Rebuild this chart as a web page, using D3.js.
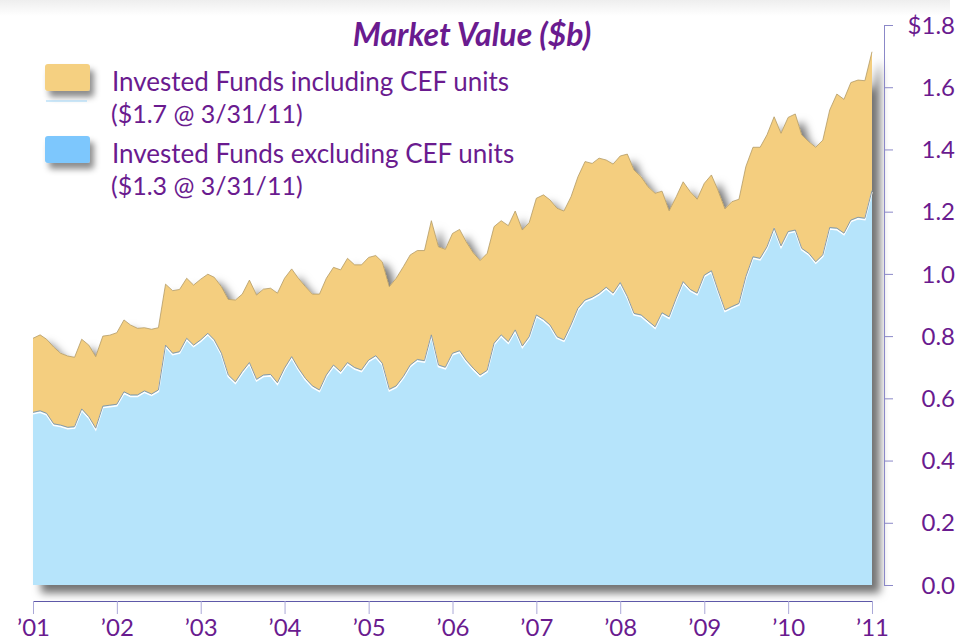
<!DOCTYPE html>
<html lang="en">
<head>
    <meta charset="UTF-8">
    <title>Market Value</title>
    <script src="https://d3js.org/d3.v7.min.js"></script>
    <style>
        body { margin: 0; background: #fff; }
        text { font-family: Lato, "Open Sans", sans-serif; fill: #6a1b8f; }
    </style>
</head>
<body>
    <div class="canvas"></div>
    <script>
        // month-end values, Jan '01 .. Jan '11 ($b)
        const withCEF = [
            0.793, 0.804, 0.790, 0.765, 0.745, 0.736, 0.732, 0.790, 0.771, 0.734, 0.800, 0.803,
            0.811, 0.852, 0.836, 0.825, 0.827, 0.822, 0.827, 0.967, 0.946, 0.950, 0.986, 0.964,
            0.983, 0.999, 0.989, 0.959, 0.918, 0.916, 0.935, 0.980, 0.932, 0.951, 0.954, 0.938,
            0.986, 1.016, 0.986, 0.959, 0.935, 0.935, 0.986, 1.021, 1.013, 1.050, 1.029, 1.029,
            1.053, 1.059, 1.039, 0.959, 0.986, 1.023, 1.061, 1.075, 1.075, 1.171, 1.087, 1.079,
            1.130, 1.143, 1.104, 1.068, 1.043, 1.066, 1.152, 1.171, 1.155, 1.202, 1.141, 1.165,
            1.243, 1.254, 1.238, 1.211, 1.202, 1.248, 1.312, 1.361, 1.355, 1.372, 1.366, 1.353,
            1.379, 1.385, 1.334, 1.312, 1.280, 1.259, 1.266, 1.203, 1.248, 1.296, 1.264, 1.240,
            1.291, 1.318, 1.270, 1.209, 1.232, 1.240, 1.345, 1.407, 1.407, 1.447, 1.505, 1.452,
            1.503, 1.514, 1.447, 1.425, 1.407, 1.430, 1.527, 1.578, 1.561, 1.615, 1.623, 1.621,
            1.714
        ];
        const withoutCEF = [
            0.555, 0.560, 0.552, 0.518, 0.514, 0.507, 0.509, 0.566, 0.541, 0.504, 0.575, 0.578,
            0.581, 0.621, 0.611, 0.611, 0.624, 0.614, 0.627, 0.771, 0.745, 0.750, 0.793, 0.771,
            0.788, 0.809, 0.788, 0.745, 0.675, 0.653, 0.686, 0.715, 0.661, 0.675, 0.677, 0.650,
            0.697, 0.734, 0.697, 0.664, 0.640, 0.627, 0.675, 0.707, 0.686, 0.715, 0.699, 0.691,
            0.723, 0.737, 0.713, 0.629, 0.640, 0.670, 0.707, 0.725, 0.721, 0.804, 0.707, 0.700,
            0.745, 0.753, 0.723, 0.697, 0.675, 0.690, 0.777, 0.804, 0.782, 0.820, 0.768, 0.798,
            0.868, 0.854, 0.836, 0.798, 0.788, 0.836, 0.889, 0.916, 0.925, 0.938, 0.957, 0.938,
            0.972, 0.927, 0.873, 0.868, 0.849, 0.830, 0.875, 0.862, 0.922, 0.975, 0.950, 0.938,
            0.996, 1.010, 0.948, 0.884, 0.895, 0.905, 0.991, 1.055, 1.050, 1.087, 1.147, 1.090,
            1.136, 1.141, 1.082, 1.066, 1.039, 1.061, 1.149, 1.147, 1.131, 1.173, 1.182, 1.179,
            1.268
        ];
        const yTicks = [0, 0.2, 0.4, 0.6, 0.8, 1.0, 1.2, 1.4, 1.6, 1.8];
        const legendLabels = [
            ['Invested Funds including CEF units', '($1.7 @ 3/31/11)'],
            ['Invested Funds excluding CEF units', '($1.3 @ 3/31/11)']
        ];
        const title = 'Market Value ($b)';

        const width = 962;
        const height = 642;

        const months = d3.timeMonth.range(new Date(2001, 0, 1), new Date(2011, 1, 1));
        const data = months.map((d, i) => ({ date: d, hi: withCEF[i], lo: withoutCEF[i] }));

        const svg = d3.select('.canvas')
            .append('svg')
            .attr('width', width)
            .attr('height', height);

        const defs = svg.append('defs');
        defs.append('filter').attr('id', 'shadow')
            .attr('x', '-10%').attr('y', '-10%').attr('width', '130%').attr('height', '130%')
            .append('feDropShadow')
            .attr('dx', 8).attr('dy', 8).attr('stdDeviation', 4)
            .attr('flood-color', '#000').attr('flood-opacity', 0.55);
        defs.append('filter').attr('id', 'swatchShadow')
            .attr('x', '-30%').attr('y', '-30%').attr('width', '180%').attr('height', '200%')
            .append('feDropShadow')
            .attr('dx', 4).attr('dy', 6).attr('stdDeviation', 3)
            .attr('flood-color', '#000').attr('flood-opacity', 0.45);
        const topGrad = defs.append('linearGradient').attr('id', 'topband')
            .attr('x1', 0).attr('y1', 0).attr('x2', 0).attr('y2', 1);
        topGrad.append('stop').attr('offset', '0%').attr('stop-color', '#eeeeee');
        topGrad.append('stop').attr('offset', '100%').attr('stop-color', '#ffffff');

        // faint band along the top edge
        svg.append('rect')
            .attr('x', 0).attr('y', 0).attr('width', 950).attr('height', 16)
            .attr('fill', 'url(#topband)');

        const x = d3.scaleTime()
            .domain([months[0], months[months.length - 1]])
            .range([33, 872]);

        const y = d3.scaleLinear()
            .domain([0, 1.8])
            .range([585, 25]);

        const areaHi = d3.area()
            .x(d => x(d.date))
            .y0(y(0))
            .y1(d => y(d.hi));
        const areaLo = d3.area()
            .x(d => x(d.date))
            .y0(y(0))
            .y1(d => y(d.lo));
        const lineHi = d3.line().x(d => x(d.date)).y(d => y(d.hi));
        const lineLo = d3.line().x(d => x(d.date)).y(d => y(d.lo));

        const plot = svg.append('g');

        plot.append('path')
            .datum(data)
            .attr('d', areaHi)
            .attr('fill', '#f4ce7f')
            .attr('filter', 'url(#shadow)');

        plot.append('path')
            .datum(data)
            .attr('d', lineHi)
            .attr('fill', 'none')
            .attr('stroke', '#b39a66')
            .attr('stroke-width', 0.8);

        plot.append('path')
            .datum(data)
            .attr('d', areaLo)
            .attr('fill', '#b6e4fb');

        plot.append('path')
            .datum(data)
            .attr('d', lineLo)
            .attr('fill', 'none')
            .attr('stroke', '#ffffff')
            .attr('stroke-width', 1.5)
            .attr('transform', 'translate(0, 1.5)');

        plot.append('path')
            .datum(data)
            .attr('d', lineLo)
            .attr('fill', 'none')
            .attr('stroke', '#8a9aa3')
            .attr('stroke-width', 1);

        // x axis
        const xAxis = d3.axisBottom(x)
            .ticks(d3.timeYear.every(1))
            .tickFormat(d3.timeFormat('\u2019%y'))
            .tickSizeInner(13)
            .tickSizeOuter(0);

        const xAxisG = svg.append('g')
            .attr('transform', 'translate(0, 601)')
            .call(xAxis);
        xAxisG.select('.domain').attr('stroke', '#5e58a8').attr('stroke-width', 1.2);
        xAxisG.selectAll('.tick line').attr('stroke', '#aaa8d8');
        xAxisG.selectAll('.tick text')
            .attr('y', 35)
            .attr('dy', 0)
            .style('font-size', '24px')
            .attr('fill', '#6a1b8f');

        // y axis on the right
        const yAxis = d3.axisRight(y)
            .tickValues(yTicks)
            .tickFormat(d => (d === 1.8 ? '$' : '') + d3.format('.1f')(d))
            .tickSizeInner(9)
            .tickSizeOuter(0);

        const yAxisG = svg.append('g')
            .attr('transform', 'translate(884, 0)')
            .call(yAxis);
        yAxisG.select('.domain').attr('stroke', '#8b88c8');
        yAxisG.selectAll('.tick line').attr('stroke', '#8b88c8');
        yAxisG.selectAll('.tick text')
            .attr('x', 71)
            .attr('text-anchor', 'end')
            .attr('dy', '0.34em')
            .style('font-size', '24px')
            .attr('fill', '#6a1b8f');

        // title
        svg.append('text')
            .attr('x', 472)
            .attr('y', 46)
            .attr('text-anchor', 'middle')
            .style('font-size', '32px')
            .style('font-weight', 'bold')
            .style('font-style', 'italic')
            .attr('fill', '#5e1285')
            .text(title);

        // legend
        const swatchColors = ['#f5d081', '#7dc7fd'];
        const legendY = [64, 136];
        legendLabels.forEach((lines, i) => {
            const g = svg.append('g').attr('transform', `translate(45, ${legendY[i]})`);
            g.append('rect')
                .attr('width', 45).attr('height', 27).attr('rx', 3)
                .attr('fill', swatchColors[i])
                .attr('filter', 'url(#swatchShadow)');
            g.append('text')
                .attr('x', 67).attr('y', 27)
                .style('font-size', '26px')
                .text(lines[0]);
            g.append('text')
                .attr('x', 66).attr('y', 59)
                .style('font-size', '25px')
                .text(lines[1]);
        });
        svg.append('line')
            .attr('x1', 46).attr('x2', 87).attr('y1', 101).attr('y2', 101)
            .attr('stroke', '#9cd3f6').attr('stroke-width', 1);
    </script>
</body>
</html>
